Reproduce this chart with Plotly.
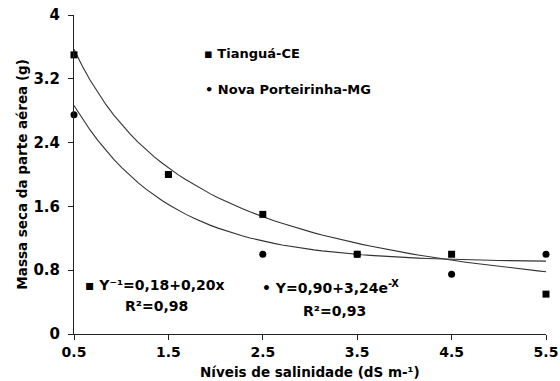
import numpy as np
import plotly.graph_objects as go

# Data
salinity = [0.5, 1.5, 2.5, 3.5, 4.5, 5.5]
tiangua = [3.5, 2.0, 1.5, 1.0, 1.0, 0.5]
nova = [2.75, 2.0, 1.0, 1.0, 0.75, 1.0]
x_ticks = [0.5, 1.5, 2.5, 3.5, 4.5, 5.5]
y_ticks = [0, 0.8, 1.6, 2.4, 3.2, 4]
y_tick_labels = ["0", "0.8", "1.6", "2.4", "3.2", "4"]

# Fitted models printed on the chart
tiangua_coef = [0.18, 0.20]   # 1/Y = a + b x
nova_coef = [0.90, 3.24]      # Y = a + b e^-x

xs = np.linspace(0.5, 5.5, 60)
y_t = 1.0 / (tiangua_coef[0] + tiangua_coef[1] * xs)
y_n = nova_coef[0] + nova_coef[1] * np.exp(-xs)

FONT = "DejaVu Sans, Liberation Sans, Arial, sans-serif"

fig = go.Figure()
fig.add_trace(go.Scatter(x=xs, y=y_t, mode="lines", line=dict(color="#333333", width=1.1),
                         showlegend=False, hoverinfo="skip"))
fig.add_trace(go.Scatter(x=xs, y=y_n, mode="lines", line=dict(color="#333333", width=1.1),
                         showlegend=False, hoverinfo="skip"))
fig.add_trace(go.Scatter(x=salinity, y=nova, mode="markers", cliponaxis=False,
                         marker=dict(symbol="circle", size=7, color="black"), showlegend=False))
fig.add_trace(go.Scatter(x=salinity, y=tiangua, mode="markers", cliponaxis=False,
                         marker=dict(symbol="square", size=7, color="black"), showlegend=False))

def bold(s):
    return "<b>" + s + "</b>"

SQ = "▪ "
DOT = "• "

ann = [
    dict(x=0.272, y=0.878, text=bold(SQ + "Tianguá-CE"), size=13),
    dict(x=0.274, y=0.765, text=bold(DOT + "Nova Porteirinha-MG"), size=13),
    dict(x=0.020, y=0.154, text=bold(SQ + "Y⁻¹=0,18+0,20x"), size=14),
    dict(x=0.103, y=0.088, text=bold("R²=0,98"), size=14),
    dict(x=0.394, y=0.146, text=bold(DOT + "Y=0,90+3,24e<sup>-X</sup>"), size=14),
    dict(x=0.481, y=0.072, text=bold("R²=0,93"), size=14),
]
annotations = []
for a in ann:
    size = a.pop("size")
    a.update(xref="paper", yref="paper", showarrow=False, xanchor="left", yanchor="middle",
             font=dict(family=FONT, size=size, color="black"))
    annotations.append(a)

# axis titles
annotations.append(dict(x=0.5, y=-0.119, xref="paper", yref="paper", showarrow=False,
                        xanchor="center", yanchor="middle",
                        text=bold("Níveis de salinidade (dS m-¹)"),
                        font=dict(family=FONT, size=13.5, color="black")))
annotations.append(dict(x=-0.112, y=0.5, xref="paper", yref="paper", showarrow=False,
                        xanchor="center", yanchor="middle", textangle=-90,
                        text=bold("Massa seca da parte aérea (g)"),
                        font=dict(family=FONT, size=13.5, color="black")))

fig.update_layout(
    width=560, height=381,
    margin=dict(l=74, r=14, t=15, b=47),
    paper_bgcolor="white", plot_bgcolor="white",
    font=dict(family=FONT, color="black"),
    annotations=annotations,
    xaxis=dict(range=[0.5, 5.5], tickvals=x_ticks, ticktext=[bold(str(v)) for v in x_ticks],
               showgrid=False, zeroline=False, showline=True, linecolor="#222", linewidth=1,
               ticks="outside", ticklen=5, tickcolor="#222", automargin=False,
               tickfont=dict(family=FONT, size=14, color="black")),
    yaxis=dict(range=[0, 4], tickvals=y_ticks, ticktext=[bold(t) for t in y_tick_labels],
               showgrid=False, zeroline=False, showline=True, linecolor="#222", linewidth=1,
               ticks="outside", ticklen=5, tickcolor="#222", ticklabelstandoff=5, automargin=False,
               tickfont=dict(family=FONT, size=15, color="black")),
)

fig.write_html("out.html", config={"displayModeBar": False},
               post_script="document.body.style.margin='0';document.body.style.overflow='hidden';")
